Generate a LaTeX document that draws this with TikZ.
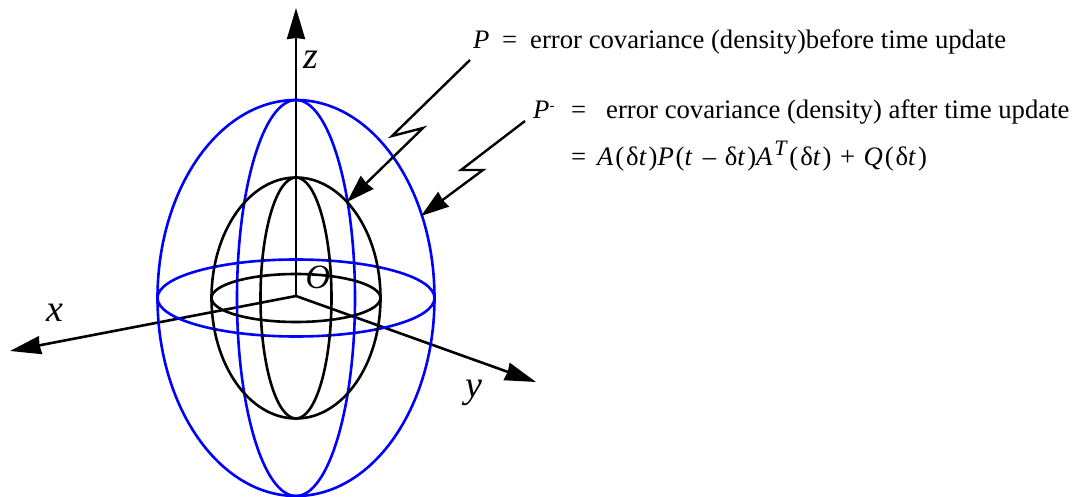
\documentclass[tikz,border=0pt]{standalone}
\usepackage{fontspec}
\setmainfont{Liberation Serif}
\usepackage{tikz}
\usetikzlibrary{positioning, arrows.meta}

\tikzset{
  blueline/.style={draw=blue, line width=2.6pt},
  blackline/.style={draw=black, line width=2.6pt},
  axisarrow/.style={draw=black, line width=2.6pt, -{Stealth[length=31pt, width=18pt, inset=1pt]}},
  ziparrow/.style={draw=black, line width=2.4pt, line join=miter, -{Stealth[length=28pt, width=18pt, inset=1pt]}},
  axislabel/.style={inner sep=0pt, font=\fontsize{38}{42}\selectfont\itshape},
  textlabel/.style={inner sep=0pt, anchor=base west, font=\fontsize{26.7}{30}\selectfont},
  formula/.style={inner sep=0pt, anchor=base west, font=\fontsize{26.7}{30}\selectfont\addfontfeatures{LetterSpace=7}}
}

\begin{document}
\begin{tikzpicture}[x=1pt, y=-1pt]
        \useasboundingbox (0,0) rectangle (1080,497);

        \coordinate (origin) at (296,296);
        \coordinate (centre) at (296,298);

        % Axes
        \coordinate (zend) at (296,8);
        \coordinate (xend) at (10,351);
        \coordinate (yend) at (536,382);
        \draw[axisarrow] (origin) -- (zend);
        \draw[axisarrow] (origin) -- (xend);
        \draw[axisarrow] (origin) -- (yend);

        % Blue ellipsoid
        \draw[blueline] (centre) ellipse (138.5 and 198);
        \draw[blueline] (centre) ellipse (59 and 198);
        \draw[blueline] (centre) ellipse (138.5 and 38.5);

        % Black ellipsoid
        \draw[blackline] (centre) ellipse (84.5 and 120.5);
        \draw[blackline] (centre) ellipse (35.5 and 120.5);
        \draw[blackline] (centre) ellipse (84.5 and 24);

        % Axis labels
        \node[axislabel] (zlabel) at (311,60) {z};
        \node[axislabel] (xlabel) at (55,313) {x};
        \node[axislabel] (ylabel) at (474,393) {y};
        \node[axislabel, font=\fontsize{34}{38}\selectfont\itshape] (olabel) at (318,277) {O};

        % Equations
        \node[textlabel] (psym) at (473,49) {\textit{P}};
        \node[textlabel] (peq) at (502,49) {=};
        \node[textlabel] (ptext) at (530,49) {error covariance (density)before time update};

        \node[textlabel] (pmsym) at (533,119) {\textit{P}\raisebox{8pt}{\fontsize{15}{15}\selectfont -}};
        \node[textlabel] (pmeq) at (571,119) {=};
        \node[textlabel] (pmtext) at (606,119) {error covariance (density) after time update};
        \node[textlabel] (dyneq) at (571,166) {=};
        \node[formula] (dyntext) at (597,166) {\textit{A}(δ\textit{t})\textit{P}(\textit{t} – δ\textit{t})\textit{A}\raisebox{10pt}{\fontsize{22}{22}\selectfont\textit{T}}(δ\textit{t}) + \textit{Q}(δ\textit{t})};

        % Lightning arrows
        \coordinate (pstart) at (470,60);
        \coordinate (pbenda) at (392,136);
        \coordinate (pbendb) at (423,128);
        \coordinate (ptip) at (347,202);
        \draw[ziparrow] (pstart) -- (pbenda) -- (pbendb) -- (ptip);

        \coordinate (qstart) at (525,121);
        \coordinate (qbenda) at (461,170);
        \coordinate (qbendb) at (483,170);
        \coordinate (qtip) at (421,216);
        \draw[ziparrow] (qstart) -- (qbenda) -- (qbendb) -- (qtip);
\end{tikzpicture}
\end{document}
